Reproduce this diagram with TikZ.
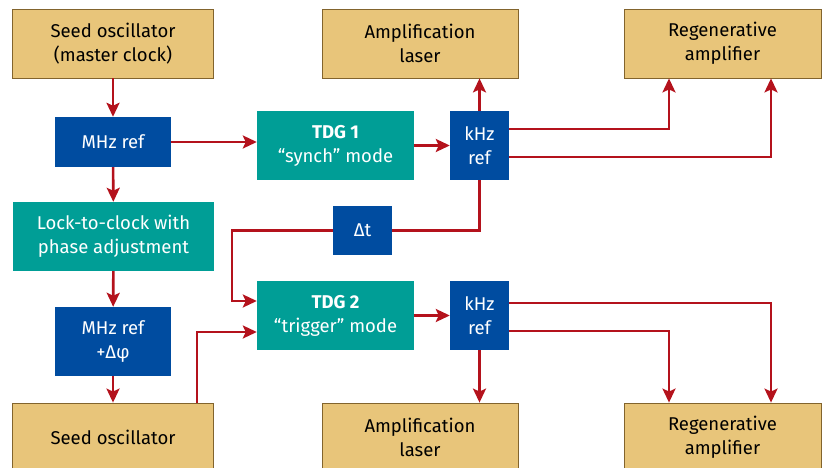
\documentclass[tikz,border=0pt]{standalone}
\usepackage{fontspec}
\setmainfont{Fira Sans}
\usetikzlibrary{arrows.meta}
\definecolor{tan}{RGB}{232,197,122}
\definecolor{tanline}{RGB}{130,100,45}
\definecolor{teal}{RGB}{0,158,150}
\definecolor{navy}{RGB}{0,76,160}
\definecolor{wire}{RGB}{180,18,28}
\tikzset{
  box/.style={inner sep=0pt, align=center, font=\fontsize{18.5}{24}\selectfont},
  device/.style={box, fill=tan, draw=tanline, line width=0.8pt, minimum width=201pt, minimum height=69pt},
  tdg/.style={box, fill=teal, text=white, minimum width=157pt, minimum height=69pt},
  ref/.style={box, fill=navy, text=white},
  sig/.style={draw=wire, line width=2.6pt, -{Stealth[length=14pt,width=13pt,inset=3pt]}},
  wireline/.style={draw=wire, line width=2.6pt}
}
\begin{document}
\begin{tikzpicture}[x=1pt,y=-1pt]
\clip (0,0) rectangle (836,468);

\node[device] (seed1) at (113,43.5) {Seed oscillator\\(master clock)};
\node[ref, minimum width=116pt, minimum height=50pt] (mhz1) at (113,142) {MHz ref};
\node[tdg, minimum width=201pt] (lock) at (113.5,236.5) {Lock-to-clock with\\phase adjustment};
\node[ref, minimum width=116pt, minimum height=69pt] (mhz2) at (113,341.5) {MHz ref\\+Δφ};
\node[device] (seed2) at (113,437.5) {Seed oscillator};

\node[tdg] (tdg1) at (335.5,145.5) {\textbf{TDG 1}\\“synch” mode};
\node[tdg] (tdg2) at (335.5,315.5) {\textbf{TDG 2}\\“trigger” mode};
\node[ref, minimum width=59pt, minimum height=69pt] (khz1) at (479.5,145.5) {kHz\\ref};
\node[ref, minimum width=59pt, minimum height=69pt] (khz2) at (479.5,315.5) {kHz\\ref};
\node[ref, minimum width=59pt, minimum height=49pt] (dt) at (362.5,230.5) {Δt};

\node[device, minimum width=196pt] (amp1) at (420,43.5) {Amplification\\laser};
\node[device, minimum width=197pt] (regen1) at (722.5,43.5) {Regenerative\\amplifier};
\node[device, minimum width=196pt] (amp2) at (420,437.5) {Amplification\\laser};
\node[device, minimum width=197pt] (regen2) at (722.5,437.5) {Regenerative\\amplifier};

\draw[sig] (seed1) -- (mhz1);
\draw[sig] (mhz1) -- (lock);
\draw[sig] (lock) -- (mhz2);
\draw[sig] (mhz2) -- (seed2);
\draw[sig] (mhz1.east) -- (mhz1.east -| tdg1.west);
\draw[sig] (tdg1) -- (khz1);
\draw[sig] (tdg2) -- (khz2);
\draw[sig] (khz1.north) -- (khz1.north |- amp1.south);
\draw[sig] (khz2.south) -- (khz2.south |- amp2.north);

\draw[sig] ([yshift=16.5pt]khz1.east) -| ([xshift=-53.5pt]regen1.south);
\draw[sig] ([yshift=-11.5pt]khz1.east) -| ([xshift=48.5pt]regen1.south);
\draw[sig] ([yshift=12.5pt]khz2.east) -| ([xshift=48.5pt]regen2.north);
\draw[sig] ([yshift=-15.5pt]khz2.east) -| ([xshift=-53.5pt]regen2.north);

\draw[wireline] (khz1.south) |- (dt.east);
\draw[sig] (dt.west) -| (232,301) -- (tdg2.west |- 0,301);
\draw[sig] ([xshift=84pt]seed2.north) |- ([yshift=-16.5pt]tdg2.west);

\end{tikzpicture}
\end{document}
